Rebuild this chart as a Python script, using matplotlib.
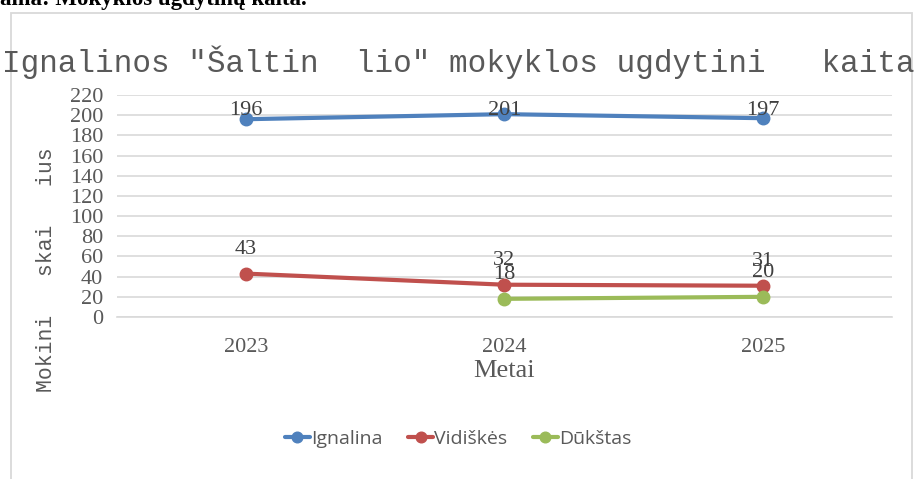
import matplotlib.pyplot as plt
from matplotlib.patches import Rectangle

# data
years = ['2023', '2024', '2025']
ignalina = [196, 201, 197]
vidiskes = [43, 32, 31]
dukstas = [None, 18, 20]

names = ['Ignalina', 'Vidiškės', 'Dūkštas']
colors = ['#4F81BD', '#C0504D', '#9BBB59']

fig = plt.figure(figsize=(9.17, 4.79), dpi=100)
ax = fig.add_axes([0.1276, 0.3382, 0.9727 - 0.1276, 0.8017 - 0.3382])

# chart border
fig.patches.append(Rectangle((10.5 / 917, -0.05), (912 - 10.5) / 917, 1.05 - 12.5 / 479,
                             transform=fig.transFigure, fill=False,
                             edgecolor='#D9D9D9', lw=1.3))

x = range(len(years))
for vals, name, c in zip([ignalina, vidiskes, dukstas], names, colors):
    xs = [i for i, v in zip(x, vals) if v is not None]
    ys = [v for v in vals if v is not None]
    ax.plot(xs, ys, color=c, lw=3, marker='o', ms=9, label=name,
            solid_capstyle='round')
    for xi, yi in zip(xs, ys):
        ly = min(yi + 24, 205)
        ax.text(xi, ly, str(yi), ha='center', va='center', fontsize=16,
                family='Liberation Serif', color='#404040')

ax.set_xlim(-0.5, 2.5)
ax.set_ylim(0, 220)
ax.set_yticks(range(0, 221, 20))
ax.set_xticks(list(x))
ax.set_xticklabels(years)
ax.grid(axis='y', color='#D9D9D9', lw=1.2)
ax.set_axisbelow(True)
for s in ['top', 'right', 'left']:
    ax.spines[s].set_visible(False)
ax.spines['bottom'].set_color('#D9D9D9')
ax.spines['bottom'].set_linewidth(1.2)
ax.tick_params(length=0, labelsize=16, labelcolor='#595959')
ax.tick_params(axis='y', pad=10)
ax.tick_params(axis='x', pad=15)
for lab in ax.get_xticklabels() + ax.get_yticklabels():
    lab.set_family('Liberation Serif')

ax.set_xlabel('Metai', fontsize=19, family='Liberation Serif', color='#595959', labelpad=2)

fig.text(458 / 917, 1 - 62 / 479, 'Ignalinos ″Šaltin  lio″ mokyklos ugdytini   kaita',
         ha='center', va='center', fontsize=22.3, family='Liberation Mono', color='#595959')
fig.text(47 / 917, 1 - 270 / 479, 'Mokini   skai   ius', rotation=90,
         ha='center', va='center', fontsize=15.5, family='Liberation Mono', color='#595959')
fig.text(0, 1 - 5 / 479, 'ama: Mokyklos ugdytinų kaita.', ha='left', va='baseline',
         fontsize=16.5, family='Liberation Serif', weight='bold', color='black')

leg = fig.legend(loc='center', bbox_to_anchor=(458 / 917, 1 - 439 / 479), ncol=3,
                 frameon=False, prop={'family': 'Open Sans', 'size': 14},
                 handlelength=1.3, handletextpad=0.05, columnspacing=1.3,
                 markerscale=0.85)
for t in leg.get_texts():
    t.set_color('#595959')

fig.savefig('out.png', dpi=100)
